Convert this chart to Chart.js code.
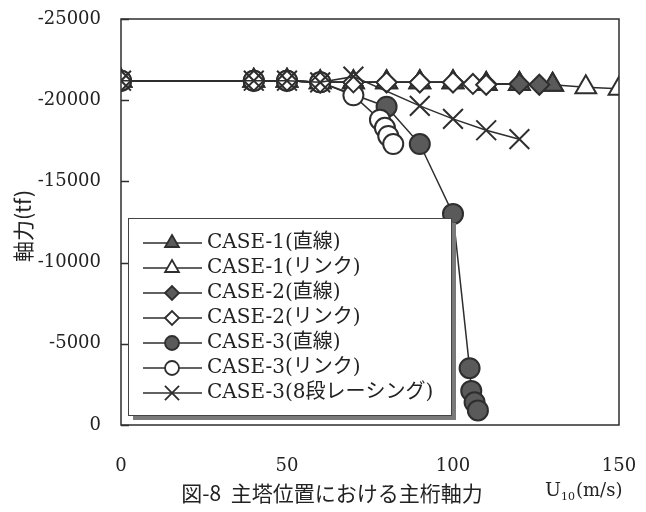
<!DOCTYPE html>
<html>
<head>
<meta charset="utf-8">
<script src="https://cdn.jsdelivr.net/npm/chart.js@4.4.0/dist/chart.umd.min.js"></script>
<style>
  html, body { margin:0; padding:0; background:#fff; }
  #wrap { width:646px; height:512px; }
</style>
</head>
<body>
<div id="wrap"><canvas id="axial" width="646" height="512"></canvas></div>
<script>
// axes
const xTicks = [0, 50, 100, 150];
const yTicks = [-25000, -20000, -15000, -10000, -5000, 0];

// series names (legend order)
const seriesNames = ['CASE-1(直線)', 'CASE-1(リンク)', 'CASE-2(直線)', 'CASE-2(リンク)',
                     'CASE-3(直線)', 'CASE-3(リンク)', 'CASE-3(8段レーシング)'];

// values: U10 (m/s) and axial force (tf)
const case1StraightX = [0, 40, 50, 60, 70, 80, 90, 100, 110, 120, 130];
const case1StraightY = [-21200, -21200, -21200, -21100, -21100, -21100, -21100, -21100, -21000, -21000, -20950];
const case1LinkX     = [0, 40, 50, 60, 70, 80, 90, 100, 110, 120, 130, 140, 150];
const case1LinkY     = [-21200, -21200, -21200, -21100, -21100, -21100, -21100, -21100, -21000, -21000, -20950, -20800, -20700];
const case2StraightX = [0, 40, 50, 60, 70, 80, 90, 100, 110, 120, 126];
const case2StraightY = [-21200, -21200, -21200, -21100, -21100, -21100, -21100, -21100, -21000, -21000, -20950];
const case2LinkX     = [0, 40, 50, 60, 70, 80, 90, 100, 106, 110];
const case2LinkY     = [-21200, -21200, -21200, -21100, -21100, -21100, -21100, -21100, -21000, -20950];
const case3StraightX = [0, 40, 50, 60, 80, 90, 100, 105, 105.5, 106.5, 107.5];
const case3StraightY = [-21200, -21200, -21200, -21100, -19600, -17300, -13000, -3500, -2100, -1400, -900];
const case3LinkX     = [0, 40, 50, 60, 70, 78, 79.5, 80.5, 82];
const case3LinkY     = [-21200, -21200, -21200, -21100, -20300, -18800, -18300, -17800, -17300];
const case3BracedX   = [0, 40, 50, 60, 70, 90, 100, 110, 120];
const case3BracedY   = [-21200, -21200, -21200, -21100, -21450, -19650, -18850, -18150, -17600];

const SERIF = "'DejaVu Serif', 'Noto Sans CJK JP', serif";
const JP = "'Noto Sans CJK JP', 'DejaVu Serif', serif";
const INK = '#2e2e2e';
const FILL = '#5a5a5a';

function pts(xs, ys) { return xs.map((x, i) => ({ x: x, y: ys[i] })); }

function ds(i, xs, ys, style, filled, radius, order) {
  return {
    label: seriesNames[i],
    data: pts(xs, ys),
    borderColor: INK,
    borderWidth: 1.5,
    pointStyle: style,
    pointRadius: radius,
    pointBorderWidth: 2,
    pointBorderColor: INK,
    pointBackgroundColor: filled ? FILL : '#fff',
    backgroundColor: filled ? FILL : '#fff',
    fill: false,
    tension: 0,
    order: order,
    _legendRadius: style === 'crossRot' ? 10 : (style === 'triangle' ? 8 : 7)
  };
}

const datasets = [
  ds(0, case1StraightX, case1StraightY, 'triangle', true, 12, 5),
  ds(1, case1LinkX, case1LinkY, 'triangle', false, 12, 6),
  ds(2, case2StraightX, case2StraightY, 'rectRot', true, 10, 4),
  ds(3, case2LinkX, case2LinkY, 'rectRot', false, 10, 1),
  ds(4, case3StraightX, case3StraightY, 'circle', true, 10, 3),
  ds(5, case3LinkX, case3LinkY, 'circle', false, 10, 2),
  ds(6, case3BracedX, case3BracedY, 'crossRot', false, 14, 0)
];

// frame, inward ticks, legend box, axis title and caption
const decorations = {
  id: 'decorations',
  afterDatasetsDraw(chart) {
    const ctx = chart.ctx;
    const a = chart.chartArea;
    const ys = chart.scales.y;
    ctx.save();
    ctx.strokeStyle = INK;
    ctx.lineWidth = 1.5;
    ctx.strokeRect(a.left, a.top, a.right - a.left, a.bottom - a.top);
    ctx.beginPath();
    yTicks.forEach(v => {
      const py = Math.round(ys.getPixelForValue(v)) + 0.5;
      ctx.moveTo(a.left, py);
      ctx.lineTo(a.left + 8, py);
    });
    ctx.stroke();

    // legend box with shadow
    const bx = 128, by = 218, bw = 323, bh = 197;
    ctx.fillStyle = '#7a7a7a';
    ctx.fillRect(bx + 5, by + 5, bw, bh);
    ctx.fillStyle = '#fff';
    ctx.fillRect(bx, by, bw, bh);
    ctx.lineWidth = 1;
    ctx.strokeStyle = '#444';
    ctx.strokeRect(bx + 0.5, by + 0.5, bw, bh);

    ctx.font = '20px ' + SERIF;
    ctx.textBaseline = 'middle';
    ctx.textAlign = 'left';
    datasets.forEach((d, i) => {
      const cy = 243 + i * 25;
      ctx.strokeStyle = INK;
      ctx.lineWidth = 1.5;
      ctx.beginPath();
      ctx.moveTo(143, cy);
      ctx.lineTo(202, cy);
      ctx.stroke();
      ctx.fillStyle = d.pointBackgroundColor;
      ctx.strokeStyle = INK;
      ctx.lineWidth = 1.8;
      Chart.helpers.drawPoint(ctx, { pointStyle: d.pointStyle, radius: d._legendRadius, borderWidth: 1.8, rotation: 0 }, 172, cy);
      ctx.fillStyle = '#222';
      ctx.fillText(d.label, 207, cy);
    });

    // y axis title, rotated
    ctx.save();
    ctx.translate(23, 226);
    ctx.rotate(-Math.PI / 2);
    ctx.font = '21px ' + JP;
    ctx.textAlign = 'center';
    ctx.fillStyle = '#222';
    ctx.fillText('軸力(tf)', 0, 0);
    ctx.restore();

    // x axis title U10(m/s)
    ctx.fillStyle = '#222';
    ctx.textAlign = 'left';
    ctx.textBaseline = 'alphabetic';
    ctx.font = '19px ' + SERIF;
    let x = 545;
    ctx.fillText('U', x, 496);
    x += ctx.measureText('U').width;
    ctx.font = '11px ' + SERIF;
    ctx.fillText('10', x, 500);
    x += ctx.measureText('10').width + 1;
    ctx.font = '18px ' + SERIF;
    ctx.fillText('(m/s)', x, 496);

    // caption
    ctx.font = '21px ' + JP;
    ctx.textAlign = 'center';
    ctx.fillText('図-8  主塔位置における主桁軸力', 332, 501);
    ctx.restore();
  }
};

new Chart(document.getElementById('axial'), {
  type: 'line',
  data: { datasets },
  options: {
    responsive: false,
    animation: false,
    devicePixelRatio: 1,
    layout: { padding: { top: 19, right: 27, left: 0, bottom: 0 } },
    plugins: { legend: { display: false }, tooltip: { enabled: false }, title: { display: false } },
    scales: {
      x: {
        type: 'linear', min: 0, max: 150,
        afterFit(s) { s.height = 87; s.paddingLeft = 0; s.paddingRight = 0; },
        afterBuildTicks(s) { s.ticks = xTicks.map(v => ({ value: v })); },
        grid: { display: false, drawTicks: false },
        border: { display: false },
        ticks: { color: '#222', font: { family: SERIF, size: 18 }, padding: 31, maxRotation: 0 }
      },
      y: {
        type: 'linear', min: -25000, max: 0, reverse: true,
        afterFit(s) { s.width = 121; s.paddingTop = 0; s.paddingBottom = 0; },
        afterBuildTicks(s) { s.ticks = yTicks.map(v => ({ value: v })); },
        grid: { display: false, drawTicks: false },
        border: { display: false },
        ticks: { color: '#222', font: { family: SERIF, size: 18 }, padding: 20, callback: v => String(v) }
      }
    }
  },
  plugins: [decorations]
});
</script>
</body>
</html>
